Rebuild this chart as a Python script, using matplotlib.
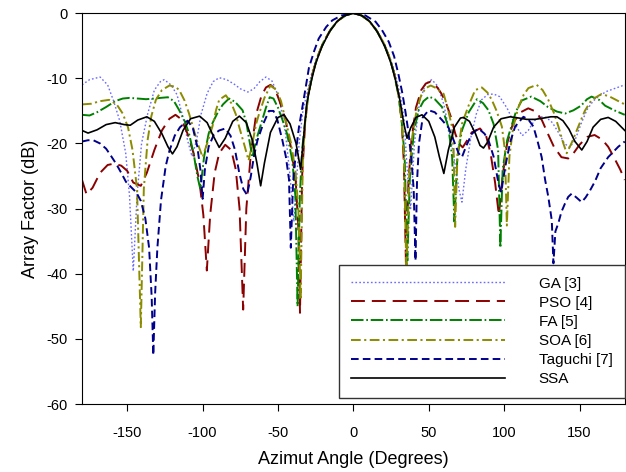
import numpy as np
import matplotlib
matplotlib.use('Agg')
import matplotlib.pyplot as plt

plt.rcParams['font.family'] = ['Liberation Sans', 'DejaVu Sans']
plt.rcParams['lines.scale_dashes'] = False
plt.rcParams['axes.unicode_minus'] = False

# ---- values (angle in degrees, array factor in dB) ----
ga_deg = [-180, -175, -168, -163, -159, -155, -151, -148.5, -146, -143.5, -140.5, -136.5, -132, -128,
          -125.5, -121, -117, -113, -110, -107, -104, -101, -97, -93, -89, -84, -79, -75, -70, -66, -62,
          -58, -54, -51, -48, -45, -42, -39.5, -37.5, -36, -33.5, -31, -28, -25, -21, -16, -11, -6, 0,
          6, 11, 16, 21, 25, 28, 31, 33.5, 36, 38, 40.5, 44, 48, 52, 56, 60, 63.5, 67, 70, 72, 74.5, 78,
          81.5, 85, 89, 93, 97, 102, 107, 112, 116, 120, 124, 128, 132, 136, 140, 143.5, 147, 151, 155,
          159, 163, 168, 174, 180]
ga_db = [-11.0, -10.2, -9.8, -11.0, -13.5, -16.5, -21.5, -28.0, -39.6, -28.0, -20.0, -15.5, -11.8, -10.5,
         -10.2, -11.0, -12.5, -16.0, -19.5, -22.0, -19.5, -15.5, -12.3, -10.5, -9.9, -10.2, -10.9, -11.6,
         -12.1, -11.6, -10.5, -9.8, -10.4, -12.0, -14.5, -18.5, -25.0, -32.0, -25.0, -20.0, -15.0, -12.5,
         -9.5, -7.3, -5.0, -2.8, -1.3, -0.4, 0.0, -0.4, -1.3, -2.8, -5.0, -7.3, -9.5, -12.5, -16.0, -25.0,
         -30.0, -20.0, -13.5, -10.8, -10.2, -11.2, -14.0, -18.0, -22.5, -27.0, -29.0, -24.0, -19.0, -15.5,
         -13.3, -12.5, -12.4, -12.8, -14.6, -17.0, -18.8, -18.0, -16.5, -15.9, -16.0, -16.8, -18.3, -20.0,
         -20.6, -19.5, -17.0, -14.8, -13.5, -12.7, -12.0, -11.5, -11.0]

pso_deg = [-180, -177, -173, -168, -163, -159, -154, -150, -146, -141, -137, -132, -127, -122, -118, -114,
           -110, -106, -102, -99.5, -97.2, -95, -92, -89, -85, -81, -78, -75.5, -73.1, -71, -68, -64.5, -61,
           -58, -55, -52, -48.5, -45, -41.5, -38.3, -36.5, -35.4, -34, -32, -30, -27, -24, -20, -15, -10,
           -5, 0, 5, 10, 15, 20, 24, 27, 30, 32, 33.5, 35, 36.5, 38.5, 41.5, 45, 48, 51.3, 55, 58, 61, 64.5,
           67.6, 70, 72.5, 75, 78.5, 84, 88, 91, 94, 96.5, 99, 102, 106, 111, 116, 121, 125, 129, 133, 138,
           142.5, 146, 150, 155, 160, 165, 169, 173, 177, 180]
pso_db = [-25.6, -27.8, -26.8, -24.5, -23.3, -23.1, -23.4, -24.2, -26.0, -26.5, -24.5, -21.0, -18.0, -16.2,
          -15.6, -16.3, -18.5, -21.5, -26.0, -31.0, -39.5, -31.0, -24.5, -21.5, -20.2, -21.0, -24.0, -30.0,
          -45.5, -30.0, -21.5, -15.5, -12.7, -11.4, -11.0, -11.6, -13.8, -16.4, -20.5, -25.5, -33.0, -46.0,
          -25.0, -17.0, -12.5, -9.2, -6.8, -4.5, -2.5, -1.1, -0.3, 0.0, -0.3, -1.1, -2.5, -4.5, -6.8, -9.2,
          -12.5, -16.5, -23.0, -40.0, -26.0, -19.5, -14.5, -11.8, -10.8, -10.5, -11.2, -12.2, -13.5, -15.8,
          -18.5, -20.0, -20.6, -19.7, -18.3, -17.7, -18.8, -21.5, -26.0, -31.0, -25.0, -20.0, -16.8, -15.2,
          -14.6, -15.1, -16.4, -18.5, -20.5, -22.1, -22.3, -21.5, -20.2, -19.0, -18.7, -19.4, -20.5, -22.2,
          -24.0, -25.6]

fa_deg = [-180, -175, -170, -164, -158, -153, -148.5, -143, -137.5, -132, -128, -123, -119, -115.5, -112,
          -109, -106, -103.5, -101.5, -99, -96, -93.5, -89.5, -86.5, -82.5, -78.5, -73.5, -71, -69, -67,
          -64.5, -61.5, -58, -55.5, -53, -50, -47, -44, -40.5, -38.5, -37, -35.5, -34, -32, -30, -27, -24,
          -20, -15, -10, -5, 0, 5, 10, 15, 20, 24, 27, 30, 32, 34, 35.8, 37.5, 40, 43, 46.5, 50.2, 54, 58.8,
          63, 65.5, 67, 69, 72, 76.5, 82, 86, 89.6, 93, 96, 97.5, 99, 102, 105, 108, 111.7, 118, 124, 129,
          135, 140.5, 146, 151, 155, 158, 163, 167, 173, 180]
fa_db = [-15.6, -15.7, -15.2, -14.4, -13.5, -13.1, -13.0, -13.1, -13.2, -13.1, -13.0, -12.9, -13.5, -14.9,
         -16.5, -18.5, -21.5, -25.0, -27.0, -22.0, -18.5, -16.9, -15.0, -14.0, -13.1, -13.6, -14.9, -16.8,
         -19.5, -22.1, -19.5, -17.2, -14.5, -12.9, -13.1, -14.5, -16.4, -18.5, -22.6, -28.0, -45.0, -28.0,
         -21.0, -16.5, -12.7, -9.3, -6.9, -4.6, -2.5, -1.1, -0.3, 0.0, -0.3, -1.1, -2.5, -4.6, -6.9, -9.3,
         -12.7, -16.5, -22.0, -38.0, -25.0, -18.5, -15.0, -13.5, -12.8, -13.2, -14.4, -17.5, -22.0, -32.0,
         -22.0, -18.0, -15.2, -13.2, -13.8, -14.9, -17.0, -21.0, -36.0, -24.0, -19.5, -17.2, -15.0, -13.4,
         -12.8, -13.5, -14.4, -15.1, -15.4, -14.9, -14.2, -13.2, -12.8, -13.3, -14.2, -14.9, -15.6]

soa_deg = [-180, -174, -168, -162, -157, -153, -149.5, -146.5, -143.5, -141, -139, -136.5, -134, -131, -127,
           -122, -118, -115.5, -112, -109, -106, -102.5, -100, -97, -93.5, -91, -89, -84.6, -81, -78, -75.8,
           -72, -69.5, -67, -64.5, -62.5, -59, -55, -51, -48, -45, -41.5, -38.5, -36.5, -35, -33.5, -32,
           -30, -27, -24, -20, -15, -10, -5, 0, 5, 10, 15, 20, 24, 27, 30, 32, 33.5, 35.2, 37, 39, 42, 45,
           48, 51.3, 55, 59.9, 63, 65.4, 66.5, 67.5, 69, 72, 76.4, 80.8, 85.2, 89, 91.8, 95, 98.5, 100.5,
           101.8, 103.5, 106, 109.5, 113, 116.1, 121.6, 125.5, 129.3, 133, 136, 139, 141.5, 145, 149.2,
           153.5, 158, 164.6, 170, 175, 180]
soa_db = [-14.0, -13.9, -13.5, -13.3, -14.0, -15.4, -17.5, -21.0, -27.0, -48.2, -27.0, -19.5, -15.8, -13.3,
          -11.8, -11.1, -11.3, -11.8, -13.4, -15.4, -17.8, -20.5, -22.1, -20.0, -17.4, -14.8, -13.3, -12.6,
          -13.8, -15.5, -17.4, -20.5, -22.6, -20.0, -17.0, -15.4, -13.0, -11.1, -11.8, -13.5, -16.4, -19.8,
          -24.0, -30.0, -44.0, -22.0, -16.8, -12.5, -9.2, -6.8, -4.5, -2.5, -1.1, -0.3, 0.0, -0.3, -1.1,
          -2.5, -4.5, -6.8, -9.2, -12.5, -16.5, -22.0, -40.0, -25.0, -19.0, -14.8, -12.6, -11.5, -11.1,
          -11.5, -12.4, -15.0, -17.4, -21.0, -32.8, -22.0, -17.0, -14.2, -11.8, -11.4, -12.2, -13.3, -15.0,
          -17.4, -21.0, -32.6, -22.0, -17.5, -14.4, -12.5, -11.5, -11.0, -11.8, -13.3, -15.3, -17.4, -19.8,
          -21.5, -19.8, -17.4, -15.0, -13.3, -12.4, -12.8, -13.4, -14.0]

tag_deg = [-180, -176, -172.5, -168, -164, -160.5, -157.4, -154, -150.8, -147, -144, -141, -138, -135.5,
           -133.8, -132.7, -131.5, -130, -127.6, -124.5, -122, -118.5, -115, -110, -106.5, -103.5, -101.5,
           -100, -98.5, -96, -92.5, -89, -85, -81.5, -78.5, -75.7, -73, -70.5, -68, -66, -63.6, -60, -56,
           -53, -50.4, -47.1, -44.8, -42.7, -41.5, -40, -38, -36.1, -33, -29.5, -26, -23, -18, -14, -8, 0,
           8, 14.7, 19, 23.5, 27, 30, 32.5, 34.5, 36.5, 38.5, 40, 41.2, 42.2, 43.5, 46, 49.9, 54, 58.8,
           63.2, 66.5, 69.8, 72, 75, 78.6, 83, 87, 89.6, 93, 96.3, 98, 100.7, 104, 107.3, 112.8, 116, 119.4,
           122, 124.9, 127.2, 129.3, 131.6, 132.7, 134, 136, 138, 140.4, 142.5, 144.8, 148, 151.4, 154, 157,
           160.3, 164, 169, 175.7, 180]
tag_db = [-19.7, -19.5, -19.5, -20.0, -20.8, -22.0, -23.1, -24.5, -25.9, -26.8, -27.5, -28.8, -31.5, -36.0,
          -43.5, -52.5, -43.0, -36.0, -28.7, -23.5, -21.1, -18.8, -17.5, -16.5, -17.6, -20.5, -24.0, -28.5,
          -24.0, -20.5, -18.6, -18.0, -17.7, -18.8, -21.0, -24.5, -27.0, -27.9, -25.0, -22.0, -19.5, -17.1,
          -15.0, -15.0, -16.4, -19.5, -22.0, -25.5, -36.0, -26.0, -21.0, -17.5, -13.3, -8.4, -5.8, -3.9,
          -2.1, -1.1, -0.35, 0.0, -0.35, -1.3, -2.6, -4.4, -6.6, -9.5, -12.3, -15.1, -18.2, -22.5, -27.0,
          -38.0, -26.0, -20.0, -16.0, -14.9, -15.2, -16.4, -17.6, -19.5, -21.5, -22.1, -20.3, -18.5, -17.7,
          -18.5, -19.5, -22.0, -26.2, -27.5, -23.6, -19.8, -17.4, -15.9, -16.3, -17.4, -19.5, -22.1, -25.6,
          -28.2, -31.8, -38.4, -33.5, -32.2, -30.5, -29.2, -28.2, -27.7, -28.3, -29.0, -28.3, -27.2, -25.8,
          -23.8, -22.1, -20.5, -19.7]

ssa_deg = [-180, -176, -170, -164, -158, -152, -148, -143, -137, -132, -127, -123, -120, -117, -113, -108,
           -102, -97, -93, -89, -85, -80, -75.6, -71, -67, -64, -61.5, -59, -55, -50, -46, -42, -38, -35,
           -33, -31, -28, -25, -21, -16, -11, -6, 0, 6, 11, 16, 21, 25, 28, 31, 33.5, 35.6, 38, 41.5, 45.5,
           50, 54, 57, 60, 63, 67, 71, 73, 77, 81, 84, 86.3, 89, 93, 98, 104, 110, 115, 120.5, 126, 131,
           135, 139, 143, 147, 151.5, 155, 159, 164, 169, 174, 180]
ssa_db = [-18.0, -18.4, -17.9, -17.1, -16.8, -17.1, -17.2, -16.4, -15.9, -16.6, -18.5, -20.5, -21.6, -20.5,
          -18.0, -16.2, -15.8, -16.8, -18.8, -20.6, -19.2, -16.6, -15.8, -16.8, -19.5, -23.0, -26.5, -23.0,
          -18.3, -16.0, -15.6, -17.0, -20.0, -24.0, -19.0, -14.0, -10.5, -7.7, -5.2, -2.9, -1.3, -0.4, 0.0,
          -0.4, -1.3, -2.9, -5.2, -7.7, -10.3, -13.5, -17.0, -19.2, -17.6, -16.0, -15.6, -16.6, -19.0, -22.0,
          -24.6, -21.0, -17.5, -16.1, -16.0, -16.6, -18.5, -20.3, -20.7, -19.8, -17.5, -16.2, -15.9, -16.1,
          -16.3, -16.3, -16.1, -15.9, -15.9, -16.5, -17.8, -19.7, -21.0, -19.7, -17.5, -16.3, -16.0, -16.6,
          -18.0]

x_ticks = [-150, -100, -50, 0, 50, 100, 150]
y_ticks = [0, -10, -20, -30, -40, -50, -60]

fig = plt.figure(figsize=(6.26, 4.72), dpi=100)
ax = fig.add_axes([0.131, 0.144, 0.867, 0.828])

ax.plot(ga_deg, ga_db, color='#6a6aff', lw=1.0, linestyle=(0, (1.2, 1.6)), label='GA [3]')
ax.plot(pso_deg, pso_db, color='#8b0000', lw=1.4, linestyle=(0, (10, 5)), label='PSO [4]')
ax.plot(fa_deg, fa_db, color='#008000', lw=1.4, linestyle=(0, (9, 2, 1.2, 2)), label='FA [5]')
ax.plot(soa_deg, soa_db, color='#8c8c00', lw=1.4, linestyle=(0, (7, 2.5, 1.5, 2.5)), label='SOA [6]')
ax.plot(tag_deg, tag_db, color='#00008b', lw=1.4, linestyle=(0, (5.5, 3)), label='Taguchi [7]')
ax.plot(ssa_deg, ssa_db, color='black', lw=1.2, label='SSA')

ax.set_xlim(-180, 180)
ax.set_ylim(-60, 0)
ax.set_xticks(x_ticks)
ax.set_yticks(y_ticks)
ax.tick_params(direction='out', length=5, labelsize=10.5, top=False, right=False)
ax.tick_params(axis='x', pad=11)
ax.tick_params(axis='y', pad=5)
ax.set_xlabel('Azimut Angle (Degrees)', fontsize=13, labelpad=8)
ax.set_ylabel('Array Factor (dB)', fontsize=13, labelpad=6)

leg = ax.legend(loc='lower right', bbox_to_anchor=(1.0, 0.015), borderaxespad=0,
                fontsize=11, handlelength=10.1, handletextpad=2.2, labelspacing=0.33,
                borderpad=0.8, fancybox=False, framealpha=1)
leg.get_frame().set_edgecolor('#333333')
leg.get_frame().set_linewidth(1.0)

plt.savefig('out.png', dpi=100)
